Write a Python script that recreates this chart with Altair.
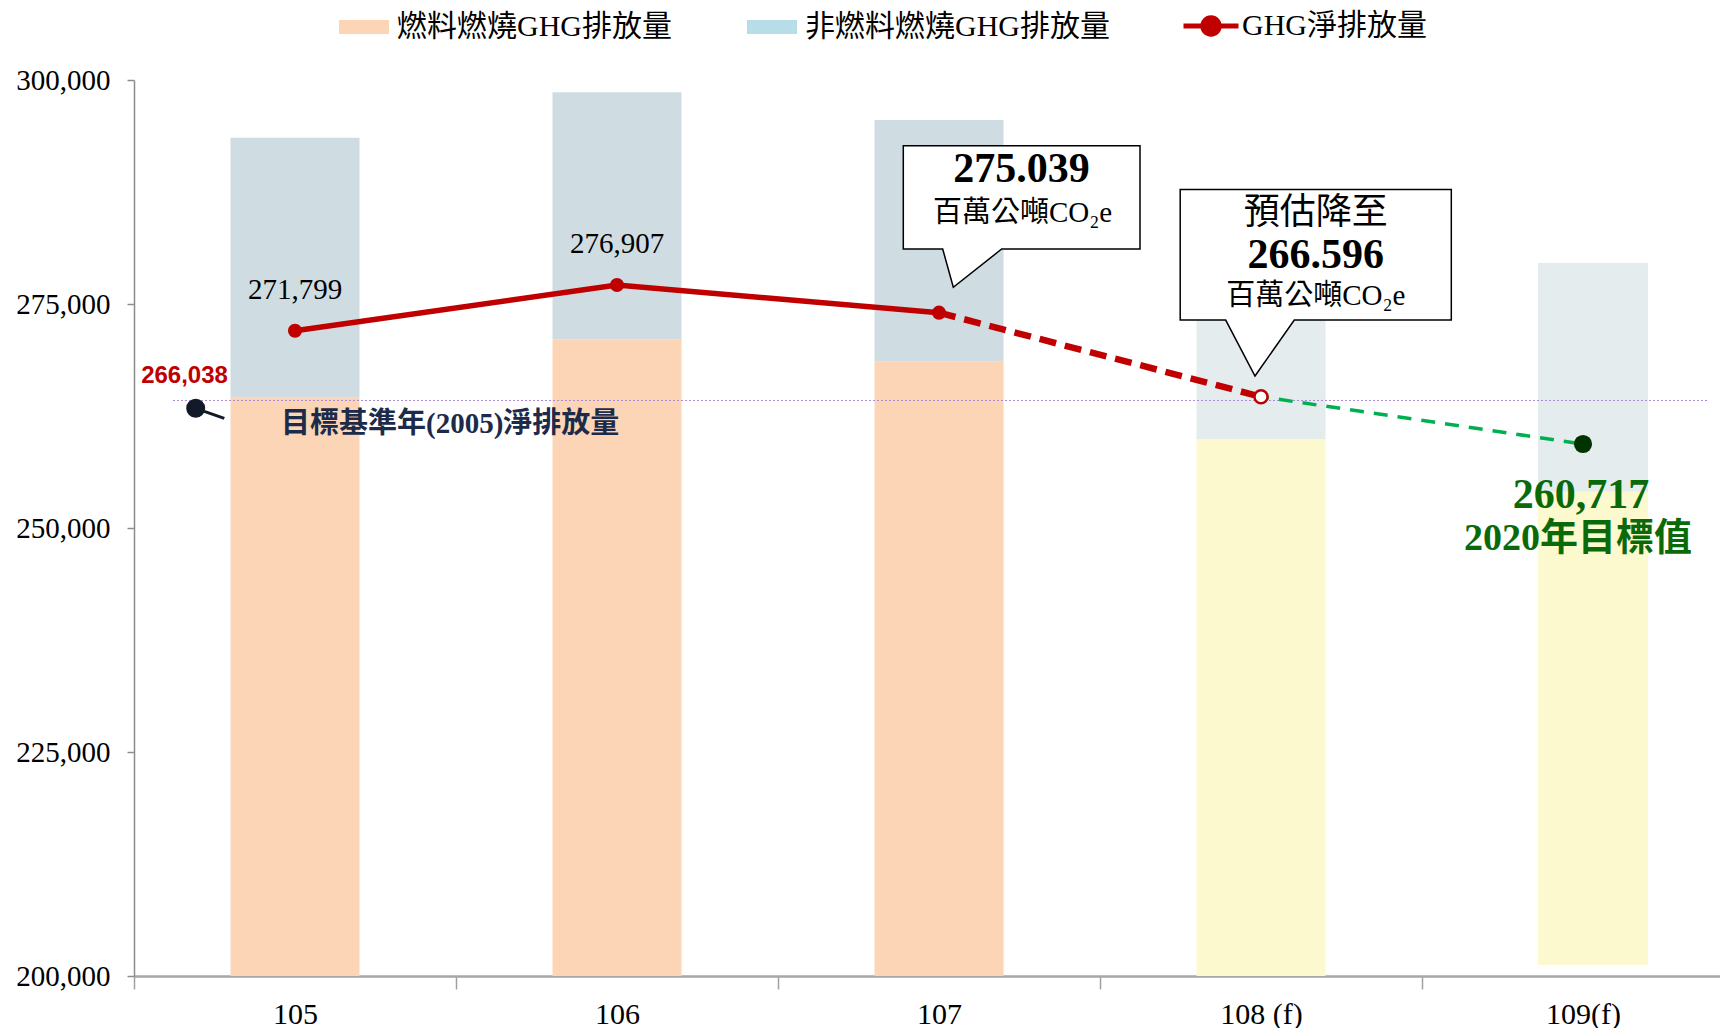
import altair as alt
import pandas as pd

# ---------------- data ----------------
categories = ["105", "106", "107", "108 (f)", "109(f)"]
fuel_emission = [264540, 271060, 268560, 259930, 254050]      # top of fuel segment
nonfuel_emission = [29020, 27570, 26980, 22070, 25530]         # stacked on top
bar_bottom = [200000, 200000, 200000, 200000, 201230]
is_forecast = [False, False, False, True, True]
net_emission = [272020, 277120, 274030, 264650, 259375]
net_labels = ["271,799", "276,907"]
base_year_value = 264230
base_year_label = "266,038"
base_year_text = "目標基準年(2005)淨排放量"
callout1 = ["275.039", "百萬公噸CO₂e"]
callout2 = ["預估降至", "266.596", "百萬公噸CO₂e"]
target_lines = ["260,717", "2020年目標值"]
y_ticks = [200000, 225000, 250000, 275000, 300000]

legend_fuel = "燃料燃燒GHG排放量"
legend_nonfuel = "非燃料燃燒GHG排放量"
legend_net = "GHG淨排放量"
type_nonfuel_hist = "非燃料燃燒(實績)"
type_fuel_fc = "燃料燃燒(預估)"
type_nonfuel_fc = "非燃料燃燒(預估)"

SERIF = "Liberation Serif, Noto Sans CJK TC"
SANS = "Liberation Sans, Noto Sans CJK TC"

# ---------------- tables ----------------
rows = []
for c, f, n, b, fc in zip(categories, fuel_emission, nonfuel_emission, bar_bottom, is_forecast):
    rows.append({"cat": c, "type": type_fuel_fc if fc else legend_fuel, "v": b, "v2": f})
    rows.append({"cat": c, "type": type_nonfuel_fc if fc else type_nonfuel_hist, "v": f, "v2": f + n})
bars = pd.DataFrame(rows)

net = pd.DataFrame({"cat": categories, "v": net_emission, "series": legend_net})
lbl = net.iloc[:2].copy()
lbl["text"] = net_labels
base = pd.DataFrame({"cat": [categories[0]], "cat2": [categories[-1]], "v": [base_year_value]})


def X():
    return alt.X(
        "cat:N",
        scale=alt.Scale(domain=categories, range=[0, 1610], paddingInner=0, paddingOuter=0),
        axis=alt.Axis(title=None, tickBand="extent", labelAngle=0, labelFont=SERIF,
                      labelFontSize=30, labelColor="black", labelPadding=10, tickSize=13,
                      tickColor="#A0A0A0", tickWidth=1.5, domainColor="#A6A6A6", domainWidth=2.5),
    )


def Y(field="v"):
    return alt.Y(
        f"{field}:Q",
        scale=alt.Scale(domain=[200000, 300000], nice=False, zero=False),
        axis=alt.Axis(values=y_ticks, format=",d", title=None, grid=False, labelFont=SERIF,
                      labelFontSize=29, labelColor="black", labelPadding=17, tickSize=7,
                      tickColor="#8C8C8C", tickWidth=1.5, domainColor="#8C8C8C", domainWidth=1.5),
    )


fill_enc = alt.Fill(
    "type:N",
    scale=alt.Scale(
        domain=[legend_fuel, legend_nonfuel, type_nonfuel_hist, type_fuel_fc, type_nonfuel_fc],
        range=["#FBD5B5", "#B7DEE8", "#CFDDE3", "#FDF9CF", "#E4ECEE"],
    ),
    legend=alt.Legend(
        values=[legend_fuel, legend_nonfuel], title=None, orient="none", legendX=205, legendY=-78,
        direction="horizontal", symbolType="M-1,-0.28H1V0.28H-1Z", symbolSize=2500,
        symbolStrokeWidth=0, labelFont=SERIF, labelFontSize=30, labelColor="black",
        labelLimit=500, labelOffset=8, columnPadding=75,
    ),
)

bars_main = alt.Chart(bars).transform_filter(alt.datum.cat != categories[-1]).mark_bar(
    width=129, opacity=1).encode(x=X(), y=Y("v"), y2="v2:Q", fill=fill_enc)
bars_last = alt.Chart(bars).transform_filter(alt.datum.cat == categories[-1]).mark_bar(
    width=110, xOffset=10, opacity=1).encode(x=X(), y=Y("v"), y2="v2:Q", fill=fill_enc)

base_rule = alt.Chart(base).mark_rule(
    color="#A98BD6", strokeWidth=1, strokeDash=[2, 2], xOffset=-122, x2Offset=125
).encode(x=X(), x2="cat2:N", y=Y())

pointer = alt.Chart(base).mark_point(
    shape="M-107.3,7.8A8,8 0 1,0 -91.3,7.8A8,8 0 1,0 -107.3,7.8Z M-99.3,7.8L-70.7,17.8",
    size=4, filled=True, fill="#111A26", stroke="#111A26", strokeWidth=3, opacity=1,
).encode(x=X(), y=Y())

base_lbl = alt.Chart(base).mark_text(
    text=base_year_label, font=SANS, fontSize=24, fontWeight="bold", color="#C00000",
    dx=-110.5, dy=-24,
).encode(x=X(), y=Y())
base_txt = alt.Chart(base).mark_text(
    text=base_year_text, font=SERIF, fontSize=29, fontWeight="bold", color="#1C2B4A",
    align="left", dx=-14, dy=23.5,
).encode(x=X(), y=Y())

c1 = net.iloc[[2]]
c2 = net.iloc[[3]]
box1 = alt.Chart(c1).mark_point(
    shape="M-35.7,-167H201V-63.7H62.7L14.3,-25.4L3.7,-63.7H-35.7Z", size=4, filled=True,
    fill="white", stroke="black", strokeWidth=1.5, opacity=1,
).encode(x=X(), y=Y())
box2 = alt.Chart(c2).mark_point(
    shape="M-80.8,-207.2H190.3V-76.7H33.3L-6,-20.7L-35.3,-76.7H-80.8Z", size=4, filled=True,
    fill="white", stroke="black", strokeWidth=1.5, opacity=1,
).encode(x=X(), y=Y())

solid = alt.Chart(net.iloc[:3]).mark_line(strokeWidth=5.5).encode(
    x=X(), y=Y(),
    stroke=alt.Stroke(
        "series:N", scale=alt.Scale(domain=[legend_net], range=["#C00000"]),
        legend=alt.Legend(
            title=None, orient="none", legendX=1047, legendY=-84,
            symbolType="M-1,0H1M-0.3,0A0.3,0.3 0 1,0 0.3,0A0.3,0.3 0 1,0 -0.3,0Z",
            symbolSize=3025, symbolStrokeWidth=5, symbolFillColor="#C00000",
            labelFont=SERIF, labelFontSize=30, labelColor="black", labelLimit=400, labelOffset=1,
        ),
    ),
)
dash_red = alt.Chart(net.iloc[2:4]).mark_line(
    color="#C00000", strokeWidth=6.5, strokeDash=[17, 9]).encode(x=X(), y=Y())
dash_green = alt.Chart(net.iloc[3:5]).mark_line(
    color="#00B050", strokeWidth=3.5, strokeDash=[14, 10], strokeDashOffset=-18).encode(x=X(), y=Y())

pts_red = alt.Chart(net.iloc[:3]).mark_point(
    filled=True, size=200, color="#C00000", opacity=1).encode(x=X(), y=Y())
pt_open = alt.Chart(c2).mark_point(
    filled=True, size=170, fill="white", stroke="#C00000", strokeWidth=2.5, opacity=1).encode(x=X(), y=Y())
pt_target = alt.Chart(net.iloc[[4]]).mark_point(
    filled=True, size=330, color="#003300", opacity=1).encode(x=X(), y=Y())

net_txt = alt.Chart(lbl).mark_text(font=SERIF, fontSize=29, color="black", dy=-41).encode(
    x=X(), y=Y(), text="text:N")

t1a = alt.Chart(c1).mark_text(text=callout1[0], font=SERIF, fontSize=42, fontWeight="bold",
                              color="black", dx=82.6, dy=-143.7).encode(x=X(), y=Y())
t1b = alt.Chart(c1).mark_text(text=callout1[1], font=SERIF, fontSize=29, color="black",
                              dx=83.6, dy=-99.7).encode(x=X(), y=Y())
t2a = alt.Chart(c2).mark_text(text=callout2[0], font=SERIF, fontSize=36, color="black",
                              dx=54.8, dy=-183.7).encode(x=X(), y=Y())
t2b = alt.Chart(c2).mark_text(text=callout2[1], font=SERIF, fontSize=42, fontWeight="bold",
                              color="black", dx=54.8, dy=-141.7).encode(x=X(), y=Y())
t2c = alt.Chart(c2).mark_text(text=callout2[2], font=SERIF, fontSize=29, color="black",
                              dx=54.8, dy=-100.7).encode(x=X(), y=Y())

tg = net.iloc[[4]]
tg1 = alt.Chart(tg).mark_text(text=target_lines[0], font=SERIF, fontSize=42, fontWeight="bold",
                              color="#0A6A0A", dx=-2, dy=51).encode(x=X(), y=Y())
tg2 = alt.Chart(tg).mark_text(text=target_lines[1], font=SERIF, fontSize=38, fontWeight="bold",
                              color="#0A6A0A", dx=-5, dy=95).encode(x=X(), y=Y())

chart = alt.layer(
    bars_main, bars_last, base_rule, pointer, base_lbl, base_txt, box1, box2,
    solid, dash_red, dash_green, pts_red, pt_open, pt_target,
    net_txt, t1a, t1b, t2a, t2b, t2c, tg1, tg2,
).properties(
    width=1586, height=896,
    autosize=alt.AutoSizeParams(type="none"),
    padding={"left": 126, "top": 72, "right": 0, "bottom": 52},
    background="white",
).configure_view(stroke=None)

chart.save("out.html", embed_options={"renderer": "svg", "actions": False})
